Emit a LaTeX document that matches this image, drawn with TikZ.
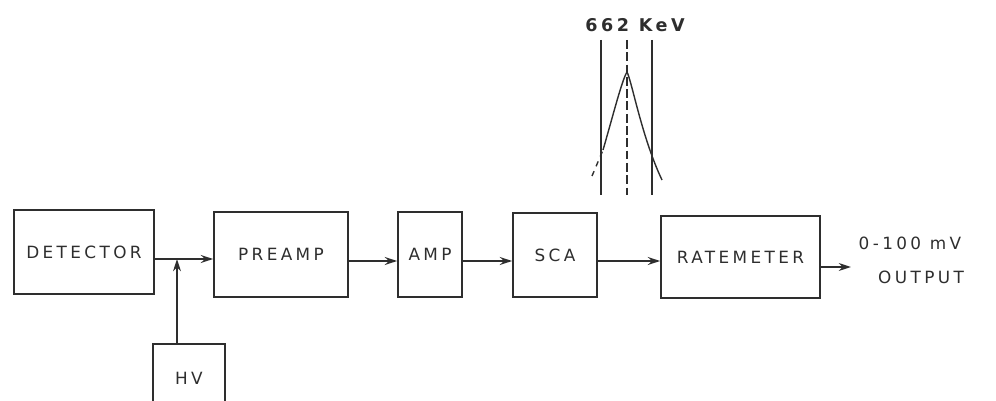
\documentclass[tikz,border=0pt]{standalone}
\usepackage{fontspec}
\usetikzlibrary{arrows.meta}
\newfontfamily\plotter[LetterSpace=20]{DejaVu Sans}
\definecolor{ink}{HTML}{2E2E2E}

\begin{document}
\begin{tikzpicture}[x=0.02cm, y=-0.02cm, line width=1pt, draw=ink, text=ink,
  every node/.style={font=\plotter\fontsize{9.6}{11}\selectfont},
  unit/.style={draw, minimum height=1.7cm, inner sep=0pt},
  sig/.style={-{Stealth[length=7pt,width=4.5pt]}}]

\useasboundingbox (0,0) rectangle (996,401);
\clip (0,0) rectangle (996,401);

% --- chain of units ---
\node[unit, minimum width=2.8cm, minimum height=1.68cm] (det) at (84,252) {DETECTOR};
\node[unit, minimum width=2.68cm] (pre) at (281,254.5) {PREAMP};
\node[unit, minimum width=1.28cm] (amp) at (430,254.5) {AMP};
\node[unit, minimum width=1.68cm, minimum height=1.68cm] (sca) at (555,255) {SCA};
\node[unit, minimum width=3.18cm, minimum height=1.64cm] (rate) at (740.5,257) {RATEMETER};
\node[unit, minimum width=1.44cm, minimum height=1.36cm] (hv) at (189,378) {HV};

% --- signal path ---
\coordinate (jn) at (177,259);
\coordinate (row) at (0,261);
\coordinate (outtip) at (851,267);
\draw (det.east |- jn) -- (jn);
\draw[sig] (jn) -- (pre.west |- jn);
\draw[sig] (hv.north -| jn) -- (jn);
\draw[sig] (pre.east |- row) -- (amp.west |- row);
\draw[sig] (amp.east |- row) -- (sca.west |- row);
\draw[sig] (sca.east |- row) -- (rate.west |- row);
\draw[sig] (rate.east |- outtip) -- (outtip);

% --- output ---
\node (out1) at (910,243) {0-100 mV};
\node (out2) at (921,277) {OUTPUT};

% --- SCA window on the peak ---
\node[font=\plotter\bfseries\fontsize{10}{12}\selectfont] (kev) at (635,25) {662 KeV};
\draw (601,40) -- (601,195);
\draw (652,40) -- (652,195);
\draw[dash pattern=on 5pt off 2pt] (627,40) -- (627,195);
\draw[line width=0.8pt] (603,150) .. controls (614,112) and (622,80) .. (627,72)
  .. controls (632,82) and (642,138) .. (662,180);
\draw[line width=0.8pt, dashed] (592,176) -- (603,150);

\end{tikzpicture}
\end{document}
